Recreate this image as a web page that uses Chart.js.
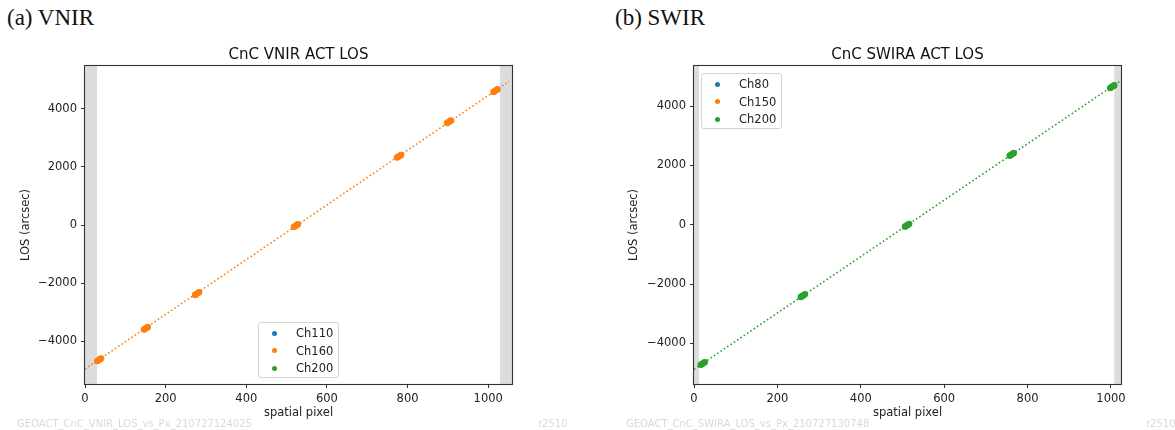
<!DOCTYPE html>
<html lang="en">
<head>
<meta charset="UTF-8">
<title>CnC ACT LOS vs spatial pixel</title>
<script src="https://cdn.jsdelivr.net/npm/chart.js@4.4.0/dist/chart.umd.min.js"></script>
<style>
  body { margin: 0; width: 1175px; height: 430px; background: #fff; position: relative; overflow: hidden; font-family: 'DejaVu Sans', sans-serif; }
  canvas { position: absolute; top: 0; }
  .tag { position: absolute; top: 6px; font-family: 'Liberation Serif', serif; font-size: 23px; line-height: 23px; color: #111; }
  .ttl { position: absolute; top: 46.5px; font-size: 15px; line-height: 15px; color: #111; white-space: nowrap; transform: translateX(-50%); }
  .stamp { position: absolute; top: 419px; font-size: 10px; line-height: 10px; color: #d9d9d9; white-space: nowrap; }
  .legend { position: absolute; width: 81px; height: 56px; box-sizing: border-box; border: 1px solid #d4d4d4; border-radius: 3px; background: rgba(255,255,255,0.8); }
  .legend .row { position: absolute; left: 0; height: 16px; line-height: 16px; font-size: 11.5px; color: #222; white-space: nowrap; }
  .legend .dot { position: absolute; left: 13px; top: 5.5px; width: 5px; height: 5px; border-radius: 50%; }
  .legend .lbl { position: absolute; left: 37px; }
</style>
</head>
<body>
  <div class="tag" style="left:7px">(a) VNIR</div>
  <div class="tag" style="left:615px">(b) SWIR</div>

  <canvas id="vnir" width="590" height="430" style="left:0"></canvas>
  <canvas id="swir" width="575" height="430" style="left:600px"></canvas>

  <div class="ttl" id="vnir-title">CnC VNIR ACT LOS</div>
  <div class="ttl" id="swir-title">CnC SWIRA ACT LOS</div>

  <div class="legend" id="vnir-legend" style="left:258px; top:322px"></div>
  <div class="legend" id="swir-legend" style="left:701px; top:73px"></div>

  <div class="stamp" style="left:17px">GEOACT_CnC_VNIR_LOS_vs_Px_210727124025</div>
  <div class="stamp" style="left:538px">r2510</div>
  <div class="stamp" style="left:626px">GEOACT_CnC_SWIRA_LOS_vs_Px_210727130748</div>
  <div class="stamp" style="left:1146px">r2510</div>

<script>
// ---- data ----
const xTicks = [0, 200, 400, 600, 800, 1000];
const yTicks = [-4000, -2000, 0, 2000, 4000];

// (a) VNIR
const vnirSeries = ['Ch110', 'Ch160', 'Ch200'];
const vnirCh110Px = [];
const vnirCh110Los = [];
const vnirCh160Px = [30, 32, 35, 38, 40,
                     146, 148, 151, 154, 156,
                     273, 275, 278, 281, 283,
                     518, 520, 523, 526, 528,
                     774, 776, 779, 782, 784,
                     898, 900, 903, 906, 908,
                     1013, 1015, 1018, 1021, 1023];
const vnirCh160Los = [-4690, -4676, -4645, -4618, -4600,
                      -3605, -3590, -3560, -3532, -3515,
                      -2410, -2395, -2365, -2338, -2320,
                      -65, -48, -20, 8, 25,
                      2325, 2342, 2370, 2398, 2415,
                      3513, 3530, 3558, 3586, 3603,
                      4587, 4604, 4632, 4660, 4677];
const vnirCh200Px = [];
const vnirCh200Los = [];
const vnirFitPx = [0, 1052];
const vnirFitLos = [-4966, 4954];
const vnirMasked = [[0, 30], [1029, 1059]];
const vnirXRange = [0, 1059];
const vnirYRange = [-5480, 5480];

// (b) SWIR
const swirSeries = ['Ch80', 'Ch150', 'Ch200'];
const swirCh80Px = [];
const swirCh80Los = [];
const swirCh150Px = [];
const swirCh150Los = [];
const swirCh200Px = [16, 18, 21, 24, 26,
                     256, 258, 261, 264, 266,
                     506, 508, 511, 514, 516,
                     757, 759, 762, 765, 767,
                     998, 1000, 1003, 1006, 1008];
const swirCh200Los = [-4725, -4706, -4678, -4650, -4631,
                      -2439, -2420, -2392, -2364, -2345,
                      -65, -46, -18, 10, 29,
                      2325, 2344, 2372, 2400, 2419,
                      4608, 4627, 4655, 4683, 4702];
const swirFitPx = [0, 1020];
const swirFitLos = [-4877, 4823];
const swirMasked = [[0, 12], [1008, 1024]];
const swirXRange = [0, 1024];
const swirYRange = [-5370, 5350];

// ---- styling ----
const seriesColors = ['#1f77b4', '#ff7f0e', '#2ca02c'];
Chart.defaults.font.family = "'DejaVu Sans', sans-serif";
Chart.defaults.color = '#222';

const toPoints = (xs, ys) => xs.map((x, i) => ({ x: x, y: ys[i] }));
const fmt = v => (v < 0 ? '\u2212' + Math.abs(v) : String(v));

// grey masked columns and the full axes frame
const framePlugin = {
  id: 'frame',
  beforeDatasetsDraw(chart, args, opts) {
    const { ctx, chartArea: a, scales: { x } } = chart;
    ctx.save();
    ctx.fillStyle = '#dcdcde';
    opts.bands.forEach(b => {
      const l = Math.max(a.left, x.getPixelForValue(b[0]));
      const r = Math.min(a.right, x.getPixelForValue(b[1]));
      ctx.fillRect(l, a.top, r - l, a.bottom - a.top);
    });
    ctx.restore();
  },
  afterDraw(chart) {
    const { ctx, chartArea: a } = chart;
    ctx.save();
    ctx.strokeStyle = '#333';
    ctx.lineWidth = 1.1;
    ctx.strokeRect(a.left - 0.5, a.top - 0.5, a.right - a.left + 1, a.bottom - a.top + 1);
    ctx.restore();
  }
};

function makeChart(id, cfg) {
  const datasets = cfg.series.map((name, i) => ({
    label: name,
    data: toPoints(cfg.px[i], cfg.los[i]),
    backgroundColor: seriesColors[i],
    borderWidth: 0,
    pointRadius: 3.2,
    pointHoverRadius: 3.2,
    order: 0
  }));
  datasets.push({
    label: 'fit',
    type: 'line',
    data: toPoints(cfg.fitPx, cfg.fitLos),
    borderColor: cfg.fitColor,
    borderWidth: 1.6,
    borderDash: [1.6, 2.4],
    pointRadius: 0,
    fill: false,
    order: 1
  });

  const chart = new Chart(document.getElementById(id), {
    type: 'scatter',
    data: { datasets: datasets },
    options: {
      responsive: false,
      animation: false,
      layout: { padding: { top: 66, right: cfg.padRight, bottom: 0, left: 0 } },
      plugins: {
        legend: { display: false },
        tooltip: { enabled: false },
        frame: { bands: cfg.masked }
      },
      scales: {
        x: {
          type: 'linear',
          min: cfg.xRange[0],
          max: cfg.xRange[1],
          afterBuildTicks: s => { s.ticks = xTicks.map(v => ({ value: v })); },
          afterFit: s => { s.height = 46; },
          ticks: { font: { size: 11.5 }, color: '#222', padding: 4, maxRotation: 0, callback: fmt },
          grid: { drawOnChartArea: false, drawTicks: true, tickLength: 4, color: '#333' },
          border: { display: false },
          title: { display: true, text: 'spatial pixel', font: { size: 11.5 }, color: '#222', padding: { top: 0, bottom: 10 } }
        },
        y: {
          type: 'linear',
          min: cfg.yRange[0],
          max: cfg.yRange[1],
          afterBuildTicks: s => { s.ticks = yTicks.map(v => ({ value: v })); },
          afterFit: s => { s.width = cfg.yWidth; },
          ticks: { font: { size: 11.5 }, color: '#222', padding: 4, callback: fmt },
          grid: { drawOnChartArea: false, drawTicks: true, tickLength: 4, color: '#333' },
          border: { display: false },
          title: { display: true, text: 'LOS (arcsec)', font: { size: 11.5 }, color: '#222', padding: { top: cfg.yTitlePad, bottom: 0 } }
        }
      }
    },
    plugins: [framePlugin]
  });

  // title centred over the axes
  const canvasLeft = document.getElementById(id).offsetLeft;
  const a = chart.chartArea;
  document.getElementById(id + '-title').style.left = (canvasLeft + (a.left + a.right) / 2) + 'px';

  // legend built from the datasets
  const box = document.getElementById(id + '-legend');
  chart.data.datasets.filter(d => d.label !== 'fit').forEach((d, i) => {
    const row = document.createElement('div');
    row.className = 'row';
    row.style.top = (2 + i * 17.6) + 'px';
    row.innerHTML = '<span class="dot" style="background:' + d.backgroundColor + '"></span><span class="lbl">' + d.label + '</span>';
    box.appendChild(row);
  });
  return chart;
}

makeChart('vnir', {
  series: vnirSeries,
  px: [vnirCh110Px, vnirCh160Px, vnirCh200Px],
  los: [vnirCh110Los, vnirCh160Los, vnirCh200Los],
  fitPx: vnirFitPx, fitLos: vnirFitLos, fitColor: seriesColors[1],
  masked: vnirMasked, xRange: vnirXRange, yRange: vnirYRange,
  yWidth: 85, padRight: 78, yTitlePad: 19
});

makeChart('swir', {
  series: swirSeries,
  px: [swirCh80Px, swirCh150Px, swirCh200Px],
  los: [swirCh80Los, swirCh150Los, swirCh200Los],
  fitPx: swirFitPx, fitLos: swirFitLos, fitColor: seriesColors[2],
  masked: swirMasked, xRange: swirXRange, yRange: swirYRange,
  yWidth: 94, padRight: 54, yTitlePad: 27
});
</script>
</body>
</html>
